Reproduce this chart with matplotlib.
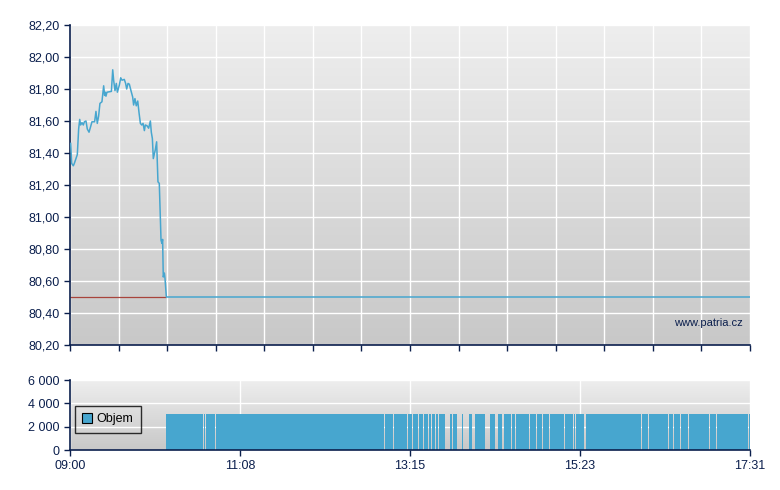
import numpy as np
import matplotlib
matplotlib.use('Agg')
import matplotlib.pyplot as plt
from matplotlib.colors import LinearSegmentedColormap
from matplotlib.patches import Patch

# price: minutes after 09:00 and price
price_min = [0.5, 1.25, 2.5, 3.25, 5.5, 6.5, 7.3, 8.0, 9.0, 10.0, 10.8, 12.0, 13.0, 14.3,
             15.5, 16.5, 18.5, 19.5, 20.5, 21.5, 22.5, 24.0, 25.3, 26.0, 26.5, 27.0, 27.8,
             31.1, 32.1, 32.8, 33.8, 34.8, 35.6, 37.1, 38.1, 39.1, 40.8, 41.8, 42.6, 43.6,
             44.6, 45.8, 47.1, 47.8, 48.8, 49.8, 50.9, 51.9, 52.9, 53.9, 54.9, 55.9, 56.6,
             57.9, 59.1, 60.4, 61.1, 61.9, 62.6, 64.1, 65.1, 66.1, 67.1, 68.4, 69.1, 69.6,
             70.1, 70.9, 71.4, 72.4, 511.0]
price = [81.46, 81.335, 81.32, 81.335, 81.39, 81.55, 81.61, 81.575, 81.59, 81.575, 81.595,
         81.60, 81.55, 81.53, 81.565, 81.595, 81.595, 81.66, 81.585, 81.63, 81.71, 81.72,
         81.82, 81.76, 81.78, 81.755, 81.78, 81.785, 81.92, 81.855, 81.79, 81.835, 81.78,
         81.825, 81.87, 81.855, 81.86, 81.835, 81.80, 81.835, 81.83, 81.79, 81.75, 81.70,
         81.74, 81.695, 81.725, 81.65, 81.585, 81.575, 81.585, 81.54, 81.575, 81.57, 81.555,
         81.60, 81.53, 81.49, 81.365, 81.42, 81.47, 81.22, 81.21, 80.855, 80.835, 80.86,
         80.625, 80.65, 80.615, 80.50, 80.50]
prev_close = 80.50

# volume: runs of traded minutes (start, end) after 09:00, bar height
vol_start = [72.1, 100.5, 102.0, 109.5, 236.7, 243.5, 254.0, 257.8, 262.3, 266.2, 269.8,
             272.3, 275.3, 277.3, 285.8, 287.8, 294.6, 299.8, 304.3, 313.1, 315.6, 321.4,
             325.9, 332.2, 335.2, 345.7, 351.2, 355.7, 360.9, 372.0, 378.7, 380.2, 387.8,
             429.8, 435.1, 450.1, 453.9, 459.2, 465.2, 480.9, 486.2, 510.0]
vol_end = [99.9, 101.2, 108.7, 236.0, 242.7, 253.2, 257.0, 261.5, 265.5, 269.0, 271.5,
           274.5, 276.5, 281.6, 287.1, 291.0, 295.3, 302.1, 311.9, 313.6, 319.6, 324.9,
           331.4, 334.6, 344.9, 350.2, 354.5, 359.7, 371.2, 378.2, 379.7, 386.5, 429.1,
           434.4, 449.4, 453.1, 458.4, 464.5, 480.2, 485.5, 509.3, 511.0]
vol_level = 3100

session_len = 511  # 09:00 -> 17:31
vol_tick_labels = ['09:00', '11:08', '13:15', '15:23', '17:31']
price_ticks = [80.2, 80.4, 80.6, 80.8, 81.0, 81.2, 81.4, 81.6, 81.8, 82.0, 82.2]
vol_ticks = [0, 2000, 4000, 6000]

navy = '#0b1f4d'
blue = '#47a6cf'
plt.rcParams['font.family'] = ['Liberation Sans', 'DejaVu Sans']

fig = plt.figure(figsize=(7.8, 4.9), dpi=100)
ax = fig.add_axes([70 / 780, 1 - 345 / 490, 680 / 780, 320 / 490])
ax2 = fig.add_axes([70 / 780, 1 - 450 / 490, 680 / 780, 70 / 490])

grad = np.linspace(0, 1, 256).reshape(-1, 1)
cmap = LinearSegmentedColormap.from_list('bg', ['#eeeeee', '#c8c8c8'])
for a in (ax, ax2):
    a.imshow(grad, cmap=cmap, extent=[0, 1, 0, 1], transform=a.transAxes,
             aspect='auto', zorder=0, interpolation='bilinear')
    for s in ('top', 'right'):
        a.spines[s].set_visible(False)
    for s in ('left', 'bottom'):
        a.spines[s].set_color(navy)
        a.spines[s].set_linewidth(1.2)
    a.tick_params(colors=navy, labelcolor=navy, length=4, width=1, labelsize=9)
    a.set_axisbelow(True)
    a.grid(True, color='white', linewidth=1)

# main price panel
ax.hlines(prev_close, 0, price_min[-2], color='#a8443c', linewidth=0.9, zorder=2)
ax.plot(price_min, price, color=blue, linewidth=1.1, zorder=3)
ax.set_xlim(0, session_len)
ax.set_ylim(80.2, 82.2)
ax.set_yticks(price_ticks)
ax.set_yticklabels([f'{v:.2f}'.replace('.', ',') for v in price_ticks])
ax.set_xticks(np.linspace(0, session_len, 15))
ax.set_xticklabels([])
ax.text(0.99, 0.07, 'www.patria.cz', transform=ax.transAxes, ha='right', va='center',
        color=navy, fontsize=8, zorder=4)

# volume panel
widths = [e - s for s, e in zip(vol_start, vol_end)]
ax2.bar(vol_start, [vol_level] * len(vol_start), width=widths, align='edge',
        color=blue, linewidth=0, zorder=2)
ax2.set_xlim(0, session_len)
ax2.set_ylim(0, 6000)
ax2.set_yticks(vol_ticks)
ax2.set_yticklabels([f'{v:,}'.replace(',', ' ') for v in vol_ticks])
ax2.set_xticks(np.linspace(0, session_len, 5))
ax2.set_xticklabels(vol_tick_labels)

leg = ax2.legend(handles=[Patch(facecolor=blue, edgecolor='black', linewidth=0.8, label='Objem')],
                 loc='center left', bbox_to_anchor=(0.007, 0.44), frameon=True, fancybox=False,
                 handlelength=0.8, handleheight=0.8, handletextpad=0.35, borderpad=0.6,
                 fontsize=9, borderaxespad=0)
leg.get_frame().set_edgecolor('black')
leg.get_frame().set_facecolor('none')
leg.get_frame().set_linewidth(1)
leg.set_zorder(5)

fig.savefig('out.png', dpi=100)
